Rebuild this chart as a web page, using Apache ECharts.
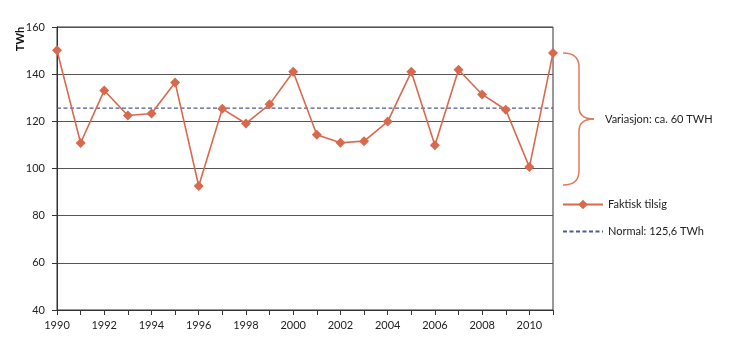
<!DOCTYPE html>
<html>
<head>
<meta charset="utf-8">
<script src="https://cdn.jsdelivr.net/npm/echarts@6/dist/echarts.min.js"></script>
<style>html,body{margin:0;padding:0;background:#fff}#c{width:730px;height:352px}</style>
</head>
<body>
<div id="c"></div>
<script>
const years = ['1990','1991','1992','1993','1994','1995','1996','1997','1998','1999','2000','2001','2002','2003','2004','2005','2006','2007','2008','2009','2010','2011'];
const faktisk = [150.1,110.8,133.1,122.5,123.3,136.5,92.6,125.3,119.1,127.2,141.0,114.3,110.9,111.6,119.9,141.0,109.9,141.9,131.4,124.9,100.6,149.0];
const normalValue = 125.6;
const normal = years.map(() => normalValue);
const yTicks = [40, 60, 80, 100, 120, 140, 160];
const braceRange = [149, 93];

const FONT = 'Lato';
const chart = echarts.init(document.getElementById('c'));
chart.setOption({
  animation: false,
  textStyle: { fontFamily: FONT },
  grid: { left: 57, right: 177, top: 27, bottom: 42, show: true, borderColor: '#333', borderWidth: 1 },
  xAxis: {
    type: 'category', data: years, boundaryGap: false,
    axisLine: { lineStyle: { color: '#333' } },
    axisTick: { show: true, interval: 0, length: 5, lineStyle: { color: '#333' } },
    axisLabel: { interval: 1, color: '#222', fontSize: 11, margin: 10, fontFamily: FONT }
  },
  yAxis: {
    type: 'value', min: yTicks[0], max: yTicks[yTicks.length - 1], interval: 20,
    axisLine: { show: true, lineStyle: { color: '#333' } },
    axisTick: { show: true, length: 5, lineStyle: { color: '#333' } },
    axisLabel: { color: '#222', fontSize: 11, margin: 12, fontFamily: FONT },
    splitLine: { lineStyle: { color: '#555', width: 1 } }
  },
  legend: {
    orient: 'vertical', left: 562, top: 199, padding: 0, itemWidth: 40, itemHeight: 12, itemGap: 16,
    textStyle: { fontSize: 11, color: '#222', fontFamily: FONT },
    data: ['Faktisk tilsig', { name: 'Normal: 125,6 TWh', itemStyle: { opacity: 0 } }]
  },
  series: [
    {
      name: 'Normal: 125,6 TWh', type: 'line', data: normal, symbol: 'none',
      lineStyle: { color: '#4f5a8c', width: 1.3, type: [4, 2.5] },
      itemStyle: { color: '#4f5a8c' }, z: 1
    },
    {
      name: 'Faktisk tilsig', type: 'line', data: faktisk,
      symbol: 'diamond', symbolSize: 10,
      lineStyle: { color: '#d9694c', width: 1.6 },
      itemStyle: { color: '#d9694c' }, z: 3
    }
  ]
});

const yt = chart.convertToPixel({ yAxisIndex: 0 }, braceRange[0]);
const yb = chart.convertToPixel({ yAxisIndex: 0 }, braceRange[1]);
const ym = (yt + yb) / 2;
const x0 = 563, x1 = 579, x2 = 594;
const bs = { stroke: '#e07a5f', lineWidth: 1.5, fill: null };
chart.setOption({
  graphic: [
    { type: 'bezierCurve', shape: { x1: x0, y1: yt, cpx1: x1, cpy1: yt, x2: x1, y2: yt + 14 }, style: bs },
    { type: 'line', shape: { x1: x1, y1: yt + 14, x2: x1, y2: ym - 12 }, style: bs },
    { type: 'bezierCurve', shape: { x1: x1, y1: ym - 12, cpx1: x1, cpy1: ym, x2: x2, y2: ym }, style: bs },
    { type: 'bezierCurve', shape: { x1: x2, y1: ym, cpx1: x1, cpy1: ym, x2: x1, y2: ym + 12 }, style: bs },
    { type: 'line', shape: { x1: x1, y1: ym + 12, x2: x1, y2: yb - 14 }, style: bs },
    { type: 'bezierCurve', shape: { x1: x1, y1: yb - 14, cpx1: x1, cpy1: yb, x2: x0, y2: yb }, style: bs },
    { type: 'text', x: 605, y: ym, style: { text: 'Variasjon: ca. 60 TWH', font: '11px ' + FONT, fill: '#222', textVerticalAlign: 'middle' } },
    { type: 'text', x: 20, y: 39, rotation: Math.PI / 2, style: { text: 'TWh', font: 'bold 11px ' + FONT, fill: '#111', textAlign: 'center', textVerticalAlign: 'middle' } }
  ]
});
</script>
</body>
</html>
